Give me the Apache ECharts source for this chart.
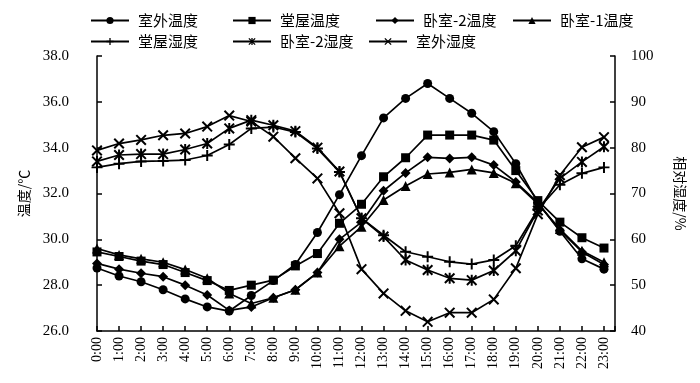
<!DOCTYPE html>
<html><head><meta charset="utf-8">
<script src="https://cdn.jsdelivr.net/npm/echarts@6/dist/echarts.min.js"></script>
<style>html,body{margin:0;padding:0;background:#fff}#c{width:700px;height:383px}</style>
</head><body><div id="c"></div>
<script>
// ---- data ----
const times = ['0:00','1:00','2:00','3:00','4:00','5:00','6:00','7:00','8:00','9:00','10:00','11:00',
               '12:00','13:00','14:00','15:00','16:00','17:00','18:00','19:00','20:00','21:00','22:00','23:00'];
const seriesNames = ['室外温度','堂屋温度','卧室-2温度','卧室-1温度','堂屋湿度','卧室-2湿度','室外湿度'];
const outdoorTemp = [28.75,28.4,28.15,27.8,27.4,27.05,26.87,27.55,28.2,28.9,30.3,31.95,33.65,35.3,36.15,36.8,36.15,35.5,34.7,33.3,31.6,30.35,29.15,28.7];
const hallTemp    = [29.45,29.25,29.05,28.9,28.55,28.2,27.77,28.0,28.22,28.84,29.38,30.7,31.53,32.73,33.56,34.55,34.55,34.55,34.33,33.0,31.69,30.75,30.07,29.62];
const bed2Temp    = [28.95,28.7,28.52,28.37,28.0,27.57,26.9,27.05,27.45,27.8,28.55,30.0,30.75,32.12,32.9,33.58,33.53,33.58,33.24,32.5,31.6,30.4,29.45,28.9];
const bed1Temp    = [29.6,29.32,29.15,29.0,28.68,28.3,27.64,27.2,27.45,27.8,28.55,29.7,30.55,31.72,32.33,32.85,32.92,33.05,32.9,32.45,31.55,30.45,29.5,29.0];
const hallHum     = [75.7,76.5,77.0,77.1,77.3,78.3,80.7,84.2,84.5,83.4,79.8,74.7,64.6,60.9,57.3,56.2,55.1,54.6,55.5,58.6,66.5,71.9,74.4,75.7];
const bed2Hum     = [77.0,78.4,78.6,78.6,79.6,80.9,84.2,86.0,84.9,83.6,80.0,74.8,64.6,60.6,55.5,53.3,51.5,51.1,53.2,57.5,66.3,73.3,76.9,80.2];
const outdoorHum  = [79.4,80.9,81.7,82.7,83.1,84.6,87.0,85.7,82.4,77.7,73.3,65.7,53.5,48.2,44.4,42.0,44.0,44.0,46.9,53.7,65.5,74.0,80.1,82.3];
const tempTicks = {min:26, max:38, step:2};
const humTicks = {min:40, max:100, step:10};

// ---- styling ----
const PLUS  = 'path://M4.1,0H5.9V10H4.1Z M0,4.1H10V5.9H0Z';
const CROSS = 'path://M0,1.3L1.3,0L10,8.7L8.7,10Z M8.7,0L10,1.3L1.3,10L0,8.7Z';
const STAR  = 'path://M0,1.3L1.3,0L10,8.7L8.7,10Z M8.7,0L10,1.3L1.3,10L0,8.7Z M4.1,0H5.9V10H4.1Z';
const serif = 'Liberation Serif';
const cjk = 'Noto Sans CJK SC';

function mk(name, data, axis, symbol, size) {
  return {
    name, type: 'line', yAxisIndex: axis,
    data: data.map((v, i) => [i, v]),
    symbol, symbolSize: size,
    lineStyle: {color: '#000', width: 1.7},
    itemStyle: {color: '#000', borderWidth: 0},
    emphasis: {disabled: true}
  };
}

const series = [
  mk(seriesNames[0], outdoorTemp, 0, 'circle', 9),
  mk(seriesNames[1], hallTemp, 0, 'rect', 9),
  mk(seriesNames[2], bed2Temp, 0, 'diamond', 10),
  mk(seriesNames[3], bed1Temp, 0, 'triangle', 10),
  mk(seriesNames[4], hallHum, 1, PLUS, 11),
  mk(seriesNames[5], bed2Hum, 1, STAR, 11),
  mk(seriesNames[6], outdoorHum, 1, CROSS, 11)
];

const legendPos = [[85,8],[227,8],[370,8],[507,8],[85,29],[227,29],[363,29]];
const legend = seriesNames.map((n, i) => ({
  data: [n], left: legendPos[i][0], top: legendPos[i][1],
  itemWidth: 38, itemHeight: 9, selectedMode: false,
  textStyle: {fontFamily: cjk, fontSize: 15, color: '#000', padding: [0,0,0,4]}
}));

const axisLineStyle = {color: '#000', width: 1.5};

const option = {
  animation: false,
  backgroundColor: '#fff',
  legend,
  grid: {left: 97, right: 85, top: 56, bottom: 52},
  xAxis: {
    type: 'value', min: 0, max: times.length - 0.5, interval: 1,
    axisLine: {lineStyle: axisLineStyle},
    axisTick: {inside: true, length: 5, lineStyle: axisLineStyle},
    axisLabel: {rotate: 90, margin: 6, fontFamily: serif, fontSize: 14, color: '#000',
      formatter: v => Number.isInteger(v) && times[v] ? times[v] : ''},
    splitLine: {show: false}
  },
  yAxis: [{
    type: 'value', position: 'left', min: tempTicks.min, max: tempTicks.max, interval: tempTicks.step,
    name: '温度/℃', nameLocation: 'middle', nameGap: 66,
    nameTextStyle: {fontFamily: cjk, fontSize: 14, color: '#000'},
    axisLine: {show: true, lineStyle: axisLineStyle},
    axisTick: {show: true, inside: true, length: 5, lineStyle: axisLineStyle},
    axisLabel: {margin: 28, fontFamily: serif, fontSize: 15, color: '#000', formatter: v => v.toFixed(1)},
    splitLine: {show: false}
  }, {
    type: 'value', position: 'right', min: humTicks.min, max: humTicks.max, interval: humTicks.step,
    name: '相对湿度/%', nameLocation: 'middle', nameGap: 58, nameRotate: -90,
    nameTextStyle: {fontFamily: cjk, fontSize: 14, color: '#000'},
    axisLine: {show: true, lineStyle: axisLineStyle},
    axisTick: {show: true, inside: true, length: 5, lineStyle: axisLineStyle},
    axisLabel: {margin: 16, fontFamily: serif, fontSize: 15, color: '#000'},
    splitLine: {show: false}
  }],
  series
};
const chart = echarts.init(document.getElementById('c'), null, {renderer: 'canvas'});
chart.setOption(option);
</script>
</body></html>
